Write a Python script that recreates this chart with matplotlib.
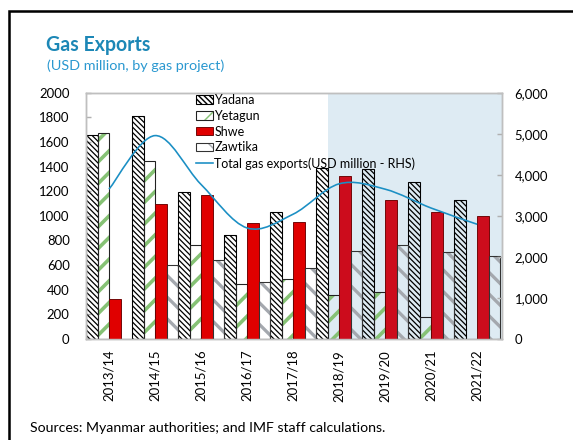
import matplotlib
matplotlib.use("Agg")
import matplotlib.pyplot as plt
import numpy as np
from matplotlib.patches import Patch, Rectangle, PathPatch
from matplotlib.lines import Line2D
from matplotlib.path import Path
from matplotlib.legend_handler import HandlerTuple
from matplotlib.ticker import FuncFormatter

plt.rcParams['font.family'] = ['Lato', 'DejaVu Sans']

categories = ['2013/14', '2014/15', '2015/16', '2016/17', '2017/18',
              '2018/19', '2019/20', '2020/21', '2021/22']
yadana = [1655, 1810, 1190, 845, 1030, 1390, 1380, 1275, 1130]
yetagun = [1670, 1445, 765, 450, 485, 355, 385, 175, 0]
shwe = [325, 1100, 1170, 945, 950, 1320, 1125, 1035, 995]
zawtika = [0, 600, 640, 465, 575, 715, 760, 705, 670]
total = [3650, 4955, 3765, 2705, 3040, 3780, 3650, 3190, 2795]
left_ticks = [0, 200, 400, 600, 800, 1000, 1200, 1400, 1600, 1800, 2000]
right_ticks = [0, 1000, 2000, 3000, 4000, 5000, 6000]

DPI = 130
fig = plt.figure(figsize=(573 / DPI, 440 / DPI), dpi=DPI)
W, H = 573, 440

def fx(px):
    return px / W

def fy(py):
    return 1 - py / H

ax = fig.add_axes([fx(86), fy(339), fx(502) - fx(86), fy(92.7) - fy(339)])
ax2 = ax.twinx()

x = np.arange(len(categories))
bw = 0.25
offs = [-0.375, -0.125, 0.125, 0.375]
shade_start = 4.75

ax.axvspan(shade_start, 9.0, color='#deebf3', zorder=0, lw=0)

YAD_H = '\\' * 8
YET_H = '//'
ZAW_H = '\\\\'

def hatched(vals, off, pattern, hcolor, hlw, ecolor, elw):
    bars = ax.bar(x + off, vals, bw, facecolor='none', edgecolor=hcolor,
                  linewidth=0, hatch=pattern, zorder=2)
    for b in bars:
        if hasattr(b, 'set_hatch_linewidth'):
            b.set_hatch_linewidth(hlw)
    ax.bar(x + off, vals, bw, facecolor='none', edgecolor=ecolor,
           linewidth=elw, zorder=3)

plt.rcParams['hatch.linewidth'] = 0.8
hatched(yadana, offs[0], YAD_H, 'black', 0.7, 'black', 0.6)
hatched(yetagun, offs[1], YET_H, '#86c275', 2.0, '#222222', 0.6)
red_cols = ['#cc0c1c' if xi + offs[2] > shade_start else '#e00000' for xi in x]
ax.bar(x + offs[2], shwe, bw, color=red_cols, edgecolor='#6a0000',
       linewidth=0.5, zorder=3)
hatched(zawtika, offs[3], ZAW_H, '#a4a8ae', 1.8, '#333333', 0.6)

ax.set_xlim(-0.5, 8.54)
ax.set_ylim(0, 2000)
ax.set_yticks(left_ticks)
ax.set_xticks(x)
ax.set_xticklabels(categories, rotation=90, fontsize=7.3)
ax.tick_params(axis='x', length=0, pad=6)
ax.tick_params(axis='y', direction='in', length=3, color='#b0b0b0',
               labelsize=7.3, pad=9)
for s in ax.spines.values():
    s.set_color('#bfbfbf')
    s.set_linewidth(0.8)
for s in ax2.spines.values():
    s.set_color('#bfbfbf')
    s.set_linewidth(0.8)

# smoothed total line on secondary axis
pts = np.column_stack([x, total]).astype(float)
n = len(pts)
verts = [tuple(pts[0])]
codes = [Path.MOVETO]
for i in range(n - 1):
    p0 = pts[max(i - 1, 0)]
    p1 = pts[i]
    p2 = pts[i + 1]
    p3 = pts[min(i + 2, n - 1)]
    c1 = p1 + (p2 - p0) / 6.0
    c2 = p2 - (p3 - p1) / 6.0
    verts += [tuple(c1), tuple(c2), tuple(p2)]
    codes += [Path.CURVE4] * 3
line_color = '#1b8fc4'
ax2.add_patch(PathPatch(Path(verts, codes), fill=False, edgecolor=line_color,
                        lw=0.9, zorder=4))
ax2.set_ylim(0, 6000)
ax2.set_yticks(right_ticks)
ax2.yaxis.set_major_formatter(FuncFormatter(lambda v, p: f"{int(v):,}"))
ax2.tick_params(axis='y', direction='in', length=3, color='#b0b0b0',
                labelsize=7.3, pad=7)

# legend
h_yad = (Patch(facecolor='none', edgecolor='black', hatch=YAD_H, lw=0),
         Patch(facecolor='none', edgecolor='black', lw=0.6))
h_yet = (Patch(facecolor='none', edgecolor='#86c275', hatch=YET_H, lw=0),
         Patch(facecolor='none', edgecolor='#222222', lw=0.6))
h_shw = Patch(facecolor='#e00000', edgecolor='#6a0000', lw=0.5)
h_zaw = (Patch(facecolor='none', edgecolor='#a4a8ae', hatch=ZAW_H, lw=0),
         Patch(facecolor='none', edgecolor='#333333', lw=0.6))
h_tot = Line2D([], [], color=line_color, lw=0.9)
leg = ax2.legend([h_yad, h_yet, h_shw, h_zaw, h_tot],
                 ['Yadana', 'Yetagun', 'Shwe', 'Zawtika',
                  'Total gas exports(USD million - RHS)'],
                 handler_map={tuple: HandlerTuple(ndivide=1, pad=0)},
                 loc='upper left', bbox_to_anchor=(fx(196), fy(94)),
                 bbox_transform=fig.transFigure, frameon=False,
                 borderpad=0, borderaxespad=0, fontsize=6.95,
                 handlelength=1.35, handleheight=0.68, handletextpad=0.1,
                 labelspacing=0.3)
leg.set_zorder(6)

# titles and footnote
fig.text(fx(46), fy(51), 'Gas Exports', fontsize=10.8, fontweight='bold',
         color='#1c87b6', va='baseline', ha='left')
fig.text(fx(47), fy(70), '(USD million, by gas project)', fontsize=7.95,
         color='#2a98d0', va='baseline', ha='left')
fig.text(fx(30), fy(432), 'Sources: Myanmar authorities; and IMF staff calculations.',
         fontsize=7.85, color='black', va='baseline', ha='left')

# outer frame
fig.add_artist(Rectangle((fx(9), -0.2), 1.5, fy(11) + 0.2, fill=False,
                         edgecolor='black', lw=1.4, transform=fig.transFigure))

fig.savefig('out.png', dpi=DPI)
